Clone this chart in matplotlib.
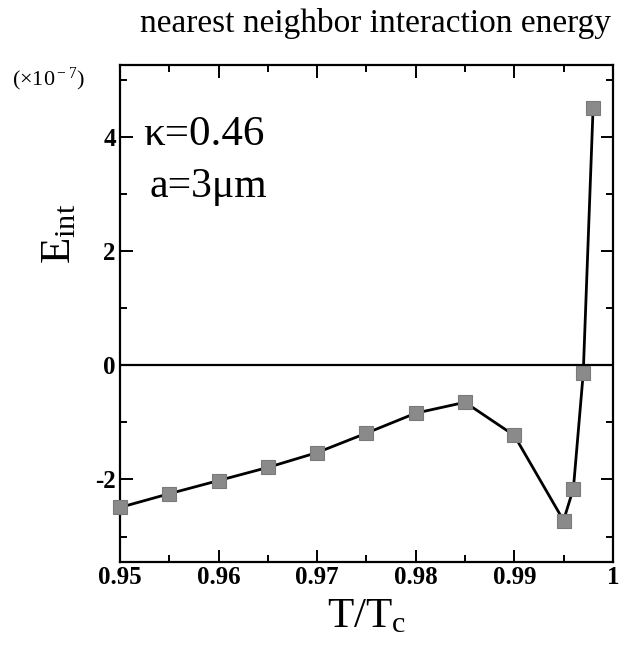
import numpy as np
import matplotlib.pyplot as plt
from matplotlib.ticker import MultipleLocator, FixedLocator

plt.rcParams['font.family'] = ['Liberation Serif', 'DejaVu Serif']
plt.rcParams['mathtext.fontset'] = 'custom'
plt.rcParams['mathtext.rm'] = 'Liberation Serif'
plt.rcParams['mathtext.it'] = 'Liberation Serif'
plt.rcParams['axes.unicode_minus'] = False

# reduced temperature and interaction energy (units of 1e-7)
t_ratio = [0.95, 0.955, 0.96, 0.965, 0.97, 0.975, 0.98, 0.985, 0.99, 0.995, 0.996, 0.997, 0.998]
e_int = [-2.49, -2.25, -2.02, -1.79, -1.53, -1.19, -0.84, -0.65, -1.23, -2.72, -2.16, -0.14, 4.51]

x_ticks = [0.95, 0.96, 0.97, 0.98, 0.99, 1.0]
x_ticklabels = ['0.95', '0.96', '0.97', '0.98', '0.99', '1']
y_ticks = [-2, 0, 2, 4]

fig = plt.figure(figsize=(6.19, 6.53), dpi=100)
ax = fig.add_axes([0.194, 0.139, 0.796, 0.761])

ax.axhline(0, color='black', lw=1.6, zorder=1)
ax.plot(t_ratio, e_int, color='black', lw=2.0, marker='s', ms=10,
        mfc='#8a8a8a', mec='#7a7a7a', mew=0.8, zorder=3, clip_on=False)

ax.set_xlim(0.95, 1.0)
ax.set_ylim(-3.45, 5.25)
ax.xaxis.set_major_locator(FixedLocator(x_ticks))
ax.set_xticklabels(x_ticklabels)
ax.xaxis.set_minor_locator(MultipleLocator(0.005))
ax.yaxis.set_major_locator(FixedLocator(y_ticks))
ax.yaxis.set_minor_locator(MultipleLocator(1))

for s in ax.spines.values():
    s.set_linewidth(1.6)
ax.tick_params(which='both', direction='in', top=True, right=True, width=1.4)
ax.tick_params(which='major', length=9, labelsize=18, pad=3)
ax.tick_params(which='minor', length=5)
for lab in ax.get_xticklabels() + ax.get_yticklabels():
    lab.set_fontweight('bold')

ax.set_xlabel('T/T$_{\\rm c}$', fontsize=31, labelpad=6)
ax.set_ylabel('E$_{\\rm int}$', fontsize=31)
ax.yaxis.set_label_coords(-0.083, 0.66)

ax.text(0.047, 0.84, 'κ=0.46', transform=ax.transAxes, fontsize=31)
ax.text(0.06, 0.735, 'a=3μm', transform=ax.transAxes, fontsize=30)

fig.text(0.02, 0.878, '(×10$^{\\rm -7}$)', fontsize=16, va='center')
fig.text(0.607, 0.964, 'nearest neighbor interaction energy', fontsize=24,
         ha='center', va='center')

fig.savefig('out.png', dpi=100)
